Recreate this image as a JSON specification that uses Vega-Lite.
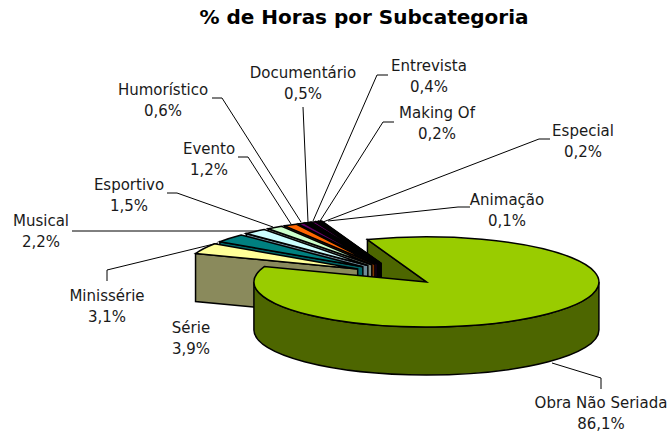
{
"$schema":"https://vega.github.io/schema/vega-lite/v6.json",
"width":671,"height":399,
"autosize":{"type":"none"},
"padding":{"left":0,"top":32,"right":0,"bottom":0},
"background":"white",
"config":{"view":{"stroke":null}},
"title":{"text":"% de Horas por Subcategoria","font":"DejaVu Sans","fontSize":20,"fontWeight":"bold","color":"black","anchor":"middle","dx":28.5,"offset":4},
"params":[
{"name":"k","value":0.261},
{"name":"d","value":0.278},
{"name":"layout","value":{
"Obra Não Seriada":{"tx":601,"ty":412,"lx":601,"ly":389,"ex":601,"ey":378,"ax":552,"ay":363},
"Série":{"tx":191,"ty":337},
"Minissérie":{"tx":107,"ty":305,"lx":107,"ly":281,"ex":107,"ey":270,"ax":218,"ay":243},
"Musical":{"tx":41,"ty":230,"lx":72,"ly":231,"ex":72,"ey":231,"ax":258,"ay":231},
"Esportivo":{"tx":129,"ty":194,"lx":167,"ly":193,"ex":177,"ey":193,"ax":273,"ay":227},
"Evento":{"tx":209,"ty":158,"lx":238,"ly":157,"ex":248,"ey":157,"ax":291,"ay":224},
"Humorístico":{"tx":163,"ty":99,"lx":212,"ly":98,"ex":222,"ey":98,"ax":301,"ay":222},
"Documentário":{"tx":303,"ty":82,"lx":303,"ly":107,"ex":303,"ey":107,"ax":308,"ay":222},
"Entrevista":{"tx":429,"ty":75,"lx":388,"ly":75,"ex":377,"ey":75,"ax":313,"ay":221},
"Making Of":{"tx":437,"ty":122,"lx":394,"ly":122,"ex":383,"ey":122,"ax":320,"ay":221},
"Especial":{"tx":583,"ty":140,"lx":550,"ly":139,"ex":539,"ey":139,"ax":323,"ay":222},
"Animação":{"tx":507,"ty":209,"lx":470,"ly":207,"ex":458,"ey":207,"ax":328,"ay":221}
}}
],
"data":{"values":[
{"name":"Obra Não Seriada","pct":86.1},
{"name":"Série","pct":3.9},
{"name":"Minissérie","pct":3.1},
{"name":"Musical","pct":2.2},
{"name":"Esportivo","pct":1.5},
{"name":"Evento","pct":1.2},
{"name":"Humorístico","pct":0.6},
{"name":"Documentário","pct":0.5},
{"name":"Entrevista","pct":0.4},
{"name":"Making Of","pct":0.2},
{"name":"Especial","pct":0.2},
{"name":"Animação","pct":0.1}
]},
"transform":[
{"window":[{"op":"row_number","as":"i"}]},
{"window":[{"op":"sum","field":"pct","as":"cum"}],"sort":[{"field":"i","order":"ascending"}],"frame":[null,0]},
{"calculate":"(340+3.6*(datum.cum-datum.pct))*PI/180","as":"a0"},
{"calculate":"(340+3.6*datum.cum)*PI/180","as":"a1"},
{"calculate":"(datum.a0+datum.a1)/2","as":"mid"},
{"calculate":"396+43*sin(datum.mid)","as":"cx"},
{"calculate":"274-43*k*cos(datum.mid)","as":"cy"},
{"calculate":"round(sin(datum.a0)*10000)/10000","as":"x0"},
{"calculate":"round(-k*cos(datum.a0)*10000)/10000","as":"y0"},
{"calculate":"round(sin(datum.a1)*10000)/10000","as":"x1"},
{"calculate":"round(-k*cos(datum.a1)*10000)/10000","as":"y1"},
{"calculate":"'M0,0L'+datum.x0+','+datum.y0+'A1,'+k+' 0 '+(datum.a1-datum.a0>PI?1:0)+' 1 '+datum.x1+','+datum.y1+'Z'","as":"topPath"},
{"calculate":"'M0,0L'+datum.x0+','+datum.y0+'L'+datum.x0+','+(datum.y0+d)+'L0,'+d+'Z'","as":"facePath"},
{"calculate":"datum.name+'\\n'+replace(format(datum.pct,'.1f'),'.',',')+'%'","as":"label"},
{"calculate":"layout[datum.name].tx","as":"tx"},
{"calculate":"layout[datum.name].ty","as":"ty"},
{"calculate":"layout[datum.name].lx","as":"lx"},
{"calculate":"layout[datum.name].ly","as":"ly"},
{"calculate":"layout[datum.name].ex","as":"ex"},
{"calculate":"layout[datum.name].ey","as":"ey"},
{"calculate":"layout[datum.name].ax","as":"ax"},
{"calculate":"layout[datum.name].ay","as":"ay"}
],
"resolve":{"scale":{"fill":"independent"}},
"layer":[
{"transform":[{"filter":"isValid(datum.lx)"}],
"mark":{"type":"rule","stroke":"black","strokeWidth":1},
"encoding":{"x":{"field":"ax","type":"quantitative","scale":{"domain":[0,671],"nice":false,"zero":false},"axis":null},"y":{"field":"ay","type":"quantitative","scale":{"domain":[32,431],"reverse":true,"nice":false,"zero":false},"axis":null},"x2":{"field":"ex"},"y2":{"field":"ey"}}},
{"transform":[{"filter":"isValid(datum.lx)"}],
"mark":{"type":"rule","stroke":"black","strokeWidth":1},
"encoding":{"x":{"field":"ex","type":"quantitative","axis":null},"y":{"field":"ey","type":"quantitative","axis":null},"x2":{"field":"lx"},"y2":{"field":"ly"}}},
{"transform":[{"filter":"datum.pct>50"}],
"mark":{"type":"point","filled":true,"opacity":1,"stroke":"black","strokeWidth":1.5,"size":119025,"fill":"#4D6600"},
"encoding":{"x":{"field":"cx","type":"quantitative","axis":null},"y":{"field":"cy","type":"quantitative","axis":null},"shape":{"field":"facePath","type":"nominal","scale":null,"legend":null}}},
{"transform":[{"filter":"datum.pct<50"}],
"mark":{"type":"point","filled":true,"opacity":1,"stroke":"black","strokeWidth":1.5,"size":119025},
"encoding":{"x":{"field":"cx","type":"quantitative","axis":null},"y":{"field":"cy","type":"quantitative","axis":null},"shape":{"field":"facePath","type":"nominal","scale":null,"legend":null},"order":{"field":"i","sort":"descending"},
"fill":{"field":"name","type":"nominal","legend":null,"scale":{"domain":["Série","Minissérie","Musical","Esportivo","Evento","Humorístico","Documentário","Entrevista","Making Of","Especial","Animação"],"range":["#8A8A5C","#006666","#6F8C99","#7F8C7F","#803300","#330033","#000000","#330033","#400040","#000000","#000000"]}}}},
{"transform":[{"filter":"datum.pct<50"}],
"mark":{"type":"point","filled":true,"opacity":1,"stroke":"black","strokeWidth":1.5,"size":119025},
"encoding":{"x":{"field":"cx","type":"quantitative","axis":null},"y":{"field":"cy","type":"quantitative","axis":null},"shape":{"field":"topPath","type":"nominal","scale":null,"legend":null},"order":{"field":"i","sort":"descending"},
"fill":{"field":"name","type":"nominal","legend":null,"scale":{"domain":["Série","Minissérie","Musical","Esportivo","Evento","Humorístico","Documentário","Entrevista","Making Of","Especial","Animação"],"range":["#FFFF99","#008080","#CCFFFF","#CCFFCC","#FF6600","#660066","#000000","#660066","#800080","#000000","#000000"]}}}},
{"transform":[{"filter":"datum.pct>50"}],
"mark":{"type":"point","filled":true,"opacity":1,"stroke":"black","strokeWidth":1.5,"size":119025,"fill":"#4D6600","shape":"M1,0A1,0.261 0 0 1 -1,0L-1,0.278A1,0.261 0 0 0 1,0.278Z"},
"encoding":{"x":{"field":"cx","type":"quantitative","axis":null},"y":{"field":"cy","type":"quantitative","axis":null}}},
{"transform":[{"filter":"datum.pct>50"}],
"mark":{"type":"point","filled":true,"opacity":1,"stroke":"black","strokeWidth":1.5,"size":119025,"fill":"#99CC00"},
"encoding":{"x":{"field":"cx","type":"quantitative","axis":null},"y":{"field":"cy","type":"quantitative","axis":null},"shape":{"field":"topPath","type":"nominal","scale":null,"legend":null}}},
{"mark":{"type":"text","font":"DejaVu Sans","fontSize":15,"color":"#1a1a1a","lineBreak":"\n","lineHeight":21.5,"align":"center","baseline":"middle","dy":-9.5},
"encoding":{"x":{"field":"tx","type":"quantitative","axis":null},"y":{"field":"ty","type":"quantitative","axis":null},"text":{"field":"label","type":"nominal"}}}
]
}
